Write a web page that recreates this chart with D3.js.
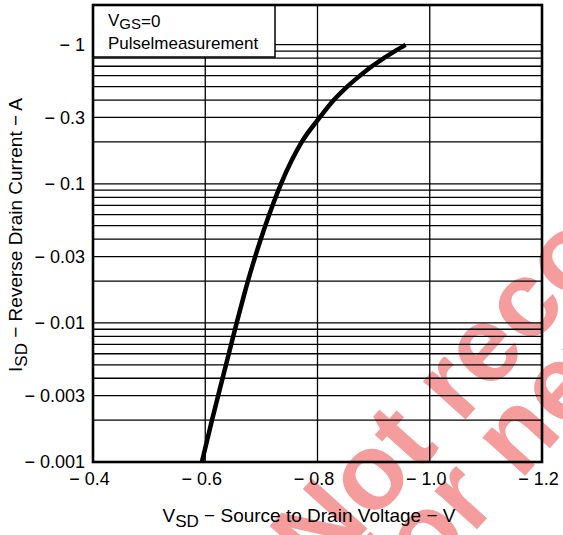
<!DOCTYPE html>
<html>
<head>
<meta charset="utf-8">
<script src="https://cdn.jsdelivr.net/npm/d3@7"></script>
<style>
  body { margin: 0; background: #fff; }
  svg { display: block; font-family: "Liberation Sans", Arial, sans-serif; }
</style>
</head>
<body>
<svg width="563" height="535"></svg>
<script>
// reverse drain current (A, magnitude) vs source-drain voltage (V, magnitude)
var currentA = [0.001, 0.002, 0.003, 0.005, 0.01, 0.02, 0.03, 0.05, 0.1, 0.2, 0.3, 0.4, 0.5, 0.6, 0.7, 0.8, 0.9, 1.0];
var voltageV = [0.594, 0.612, 0.623, 0.637, 0.656, 0.676, 0.689, 0.707, 0.735, 0.772, 0.804, 0.829, 0.853, 0.876, 0.897, 0.918, 0.938, 0.957];

var xTicks = [0.4, 0.6, 0.8, 1.0, 1.2];
var xTickLabels = ["0.4", "0.6", "0.8", "1.0", "1.2"];
var yTicks = [1, 0.3, 0.1, 0.03, 0.01, 0.003, 0.001];
var yTickLabels = ["1", "0.3", "0.1", "0.03", "0.01", "0.003", "0.001"];

var svg = d3.select("svg"),
    width = +svg.attr("width"),
    height = +svg.attr("height");

var pLeft = 93, pRight = 542, pTop = 5, pBottom = 462;

var x = d3.scaleLinear().domain([0.4, 1.2]).range([pLeft, pRight]);
var y = d3.scaleLog().domain([0.001, 1.93]).range([pBottom, pTop]);

// watermark behind everything
var wm = svg.append("g")
    .attr("fill", "#f59c9c")
    .attr("font-weight", "bold")
    .attr("font-size", 108)
    .attr("transform", "translate(320,581) rotate(-48)");
wm.append("text").attr("x", 0).attr("y", 0).text("Not recommended");
wm.append("text").attr("x", 34).attr("y", 82).text("for new design");

// horizontal grid: 1..9 per decade, up to 1
var hLines = [];
[0.001, 0.01, 0.1].forEach(function(dec) {
    for (var k = 1; k < 10; k++) hLines.push(dec * k);
});
hLines.push(1);

svg.append("g").selectAll("line")
    .data(hLines)
    .enter().append("line")
    .attr("x1", pLeft).attr("x2", pRight)
    .attr("y1", function(d) { return y(d); })
    .attr("y2", function(d) { return y(d); })
    .attr("stroke", "#000")
    .attr("stroke-width", 1.3);

svg.append("g").selectAll("line")
    .data(xTicks.slice(1, -1))
    .enter().append("line")
    .attr("x1", function(d) { return x(d); })
    .attr("x2", function(d) { return x(d); })
    .attr("y1", pTop).attr("y2", pBottom)
    .attr("stroke", "#000")
    .attr("stroke-width", 1.3);

// curve
var pts = currentA.map(function(c, i) { return [voltageV[i], c]; });
var line = d3.line()
    .x(function(d) { return x(d[0]); })
    .y(function(d) { return y(d[1]); })
    .curve(d3.curveMonotoneX);

svg.append("path")
    .datum(pts)
    .attr("d", line)
    .attr("fill", "none")
    .attr("stroke", "#000")
    .attr("stroke-width", 4.5);

// legend box
svg.append("rect")
    .attr("x", pLeft).attr("y", pTop)
    .attr("width", 182).attr("height", 52)
    .attr("fill", "#fff")
    .attr("stroke", "#000")
    .attr("stroke-width", 1.5);

var lg = svg.append("text")
    .attr("x", 108).attr("y", 26)
    .attr("font-size", 17);
lg.append("tspan").text("V");
lg.append("tspan").attr("font-size", 15).attr("dy", 3).text("GS");
lg.append("tspan").attr("dy", -2).text("=0");

svg.append("text")
    .attr("x", 108).attr("y", 49)
    .attr("font-size", 17)
    .text("Pulselmeasurement");

// frame
svg.append("rect")
    .attr("x", pLeft).attr("y", pTop)
    .attr("width", pRight - pLeft).attr("height", pBottom - pTop)
    .attr("fill", "none")
    .attr("stroke", "#000")
    .attr("stroke-width", 2.6);

// tick labels
svg.append("g").selectAll("text")
    .data(yTicks)
    .enter().append("text")
    .attr("x", 85)
    .attr("y", function(d) { return y(d); })
    .attr("dy", "0.36em")
    .attr("text-anchor", "end")
    .attr("font-size", 18)
    .text(function(d, i) { return "\u2212 " + yTickLabels[i]; });

svg.append("g").selectAll("text")
    .data(xTicks)
    .enter().append("text")
    .attr("x", function(d) { return x(d) - 3.5; })
    .attr("y", 485)
    .attr("text-anchor", "middle")
    .attr("font-size", 18)
    .text(function(d, i) { return "\u2212 " + xTickLabels[i]; });

// axis titles
var xt = svg.append("text")
    .attr("x", 309).attr("y", 522)
    .attr("text-anchor", "middle")
    .attr("font-size", 19);
xt.append("tspan").text("V");
xt.append("tspan").attr("font-size", 17).attr("dy", 5).text("SD");
xt.append("tspan").attr("dy", -5).text(" \u2212 Source to Drain Voltage \u2212 V");

var yt = svg.append("text")
    .attr("transform", "translate(22,235) rotate(-90)")
    .attr("text-anchor", "middle")
    .attr("font-size", 19);
yt.append("tspan").text("I");
yt.append("tspan").attr("font-size", 17).attr("dy", 5).text("SD");
yt.append("tspan").attr("dy", -5).text(" \u2212 Reverse Drain Current \u2212 A");
</script>
</body>
</html>
